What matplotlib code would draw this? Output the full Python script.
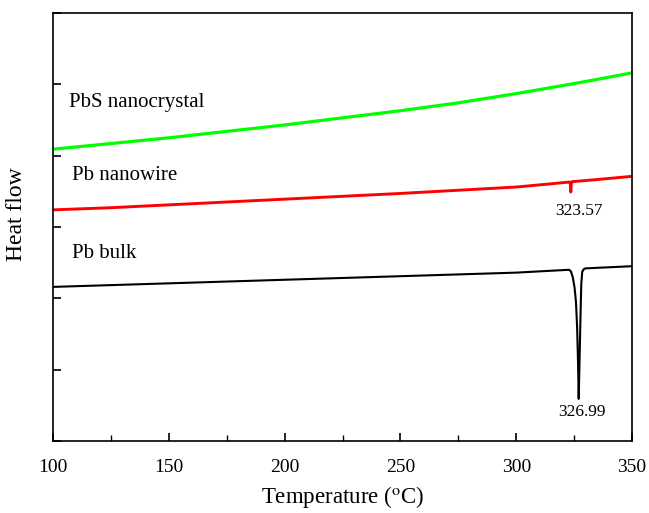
import matplotlib
matplotlib.use("Agg")
import matplotlib.pyplot as plt
from matplotlib.ticker import MultipleLocator

plt.rcParams['font.family'] = ['Liberation Serif', 'DejaVu Serif']
plt.rcParams['mathtext.fontset'] = 'stix'

# PbS nanocrystal (green)
pbs_x = [100, 125, 150, 175, 200, 225, 250, 275, 300, 325, 350]
pbs_y = [4.09, 4.17, 4.25, 4.34, 4.43, 4.53, 4.63, 4.74, 4.87, 5.01, 5.16]

# Pb nanowire (red)
nw_x = [100, 125, 150, 175, 200, 225, 250, 275, 300, 315, 323.0, 323.4, 323.57, 323.75,
        324.1, 335, 350]
nw_y = [3.24, 3.27, 3.31, 3.35, 3.39, 3.43, 3.47, 3.515, 3.56, 3.605, 3.63, 3.60, 3.49,
        3.60, 3.635, 3.665, 3.71]

# Pb bulk (black)
bulk_x = [100, 150, 200, 250, 300, 322.8, 323.6, 324.4, 325.2, 325.8, 326.3, 326.7,
          326.99, 327.4, 327.8, 328.1, 328.5, 329.2, 330.0, 350]
bulk_y = [2.16, 2.21, 2.26, 2.31, 2.36, 2.40, 2.38, 2.30, 2.15, 1.95, 1.60, 1.10,
          0.59, 1.20, 1.80, 2.20, 2.37, 2.41, 2.42, 2.45]

labels = ["PbS nanocrystal", "Pb nanowire", "Pb bulk"]
peak_nw = "323.57"
peak_bulk = "326.99"

fig = plt.figure(figsize=(6.49, 5.13), dpi=100)
ax = fig.add_axes([0.0817, 0.1404, 0.8921, 0.8343])

ax.plot(pbs_x, pbs_y, color='#00ff00', lw=2.3)
ax.plot(nw_x, nw_y, color='#ff0000', lw=2.1)
ax.plot(bulk_x, bulk_y, color='black', lw=1.5)

ax.set_xlim(100, 350)
ax.set_ylim(0, 6)
ax.xaxis.set_major_locator(MultipleLocator(50))
ax.xaxis.set_minor_locator(MultipleLocator(25))
ax.yaxis.set_major_locator(MultipleLocator(1))
ax.set_yticklabels([])
ax.tick_params(axis='both', which='major', direction='in', length=6, width=1.2,
               labelsize=14, top=False, right=False)
ax.tick_params(axis='x', which='major', pad=13)
ax.tick_params(axis='x', which='minor', direction='in', length=4, width=1.0, top=False)
for s in ax.spines.values():
    s.set_linewidth(1.2)

ax.text(107, 4.74, labels[0], fontsize=15, va='center', ha='left')
ax.text(108, 3.72, labels[1], fontsize=15, va='center', ha='left')
ax.text(108, 2.63, labels[2], fontsize=15, va='center', ha='left')
ax.text(327.1, 3.22, peak_nw, fontsize=12.5, va='center', ha='center')
ax.text(328.4, 0.40, peak_bulk, fontsize=12.5, va='center', ha='center')

ax.set_xlabel(r'Temperature ($^{\rm o}$C)', fontsize=16.5, labelpad=6)
ax.set_ylabel('Heat flow', fontsize=17)
ax.yaxis.set_label_coords(-0.045, 0.53)

fig.savefig('out.png', dpi=100)
